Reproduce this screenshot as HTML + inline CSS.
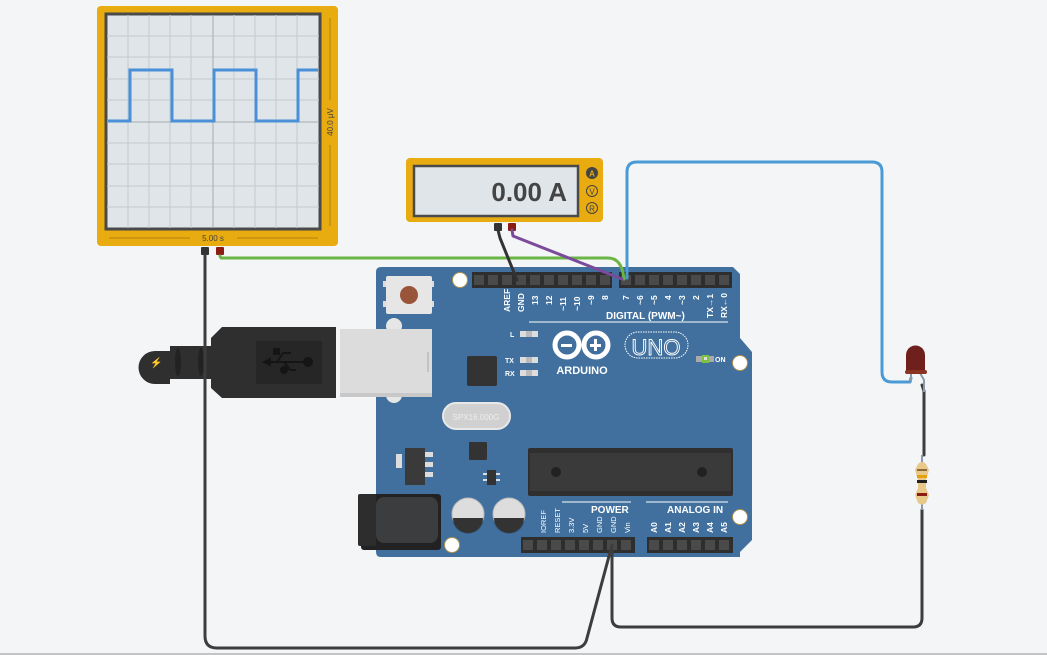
<!DOCTYPE html>
<html><head><meta charset="utf-8"><style>
html,body{margin:0;padding:0;background:#f3f5f7;}
svg{display:block;font-family:"Liberation Sans",sans-serif;}
</style></head><body>
<svg width="1047" height="655" viewBox="0 0 1047 655" xmlns="http://www.w3.org/2000/svg">
<rect width="1047" height="655" fill="#f3f5f7"/>
<line x1="0" y1="654" x2="1047" y2="654" stroke="#c4c4c4" stroke-width="2"/>

<!-- Oscilloscope -->
<rect x="97" y="6" width="241" height="240" rx="4" fill="#e8ab10"/>
<rect x="106" y="14" width="214" height="215" fill="#dfe5e8" stroke="#4a4a4a" stroke-width="3"/>
<g stroke="#c3cacd" stroke-width="1">
<line x1="128" y1="15" x2="128" y2="228"/><line x1="149" y1="15" x2="149" y2="228"/><line x1="170" y1="15" x2="170" y2="228"/><line x1="191" y1="15" x2="191" y2="228"/><line x1="234" y1="15" x2="234" y2="228"/><line x1="255" y1="15" x2="255" y2="228"/><line x1="276" y1="15" x2="276" y2="228"/><line x1="297" y1="15" x2="297" y2="228"/>
<line x1="107" y1="36" x2="319" y2="36"/><line x1="107" y1="57" x2="319" y2="57"/><line x1="107" y1="79" x2="319" y2="79"/><line x1="107" y1="100" x2="319" y2="100"/><line x1="107" y1="143" x2="319" y2="143"/><line x1="107" y1="164" x2="319" y2="164"/><line x1="107" y1="186" x2="319" y2="186"/><line x1="107" y1="207" x2="319" y2="207"/>
</g>
<line x1="213" y1="15" x2="213" y2="228" stroke="#a5abae" stroke-width="1"/>
<line x1="107" y1="122" x2="319" y2="122" stroke="#a5abae" stroke-width="1"/>
<polyline points="108,121 130,121 130,70 172,70 172,121 214,121 214,70 256,70 256,121 298,121 298,70 318,70" fill="none" stroke="#4a90d9" stroke-width="3"/>
<line x1="109" y1="238" x2="190" y2="238" stroke="#a07a10" stroke-width="0.8"/>
<line x1="237" y1="238" x2="318" y2="238" stroke="#a07a10" stroke-width="0.8"/>
<text x="213" y="241" font-size="8" fill="#444" text-anchor="middle">5.00 s</text>
<line x1="330" y1="18" x2="330" y2="100" stroke="#a07a10" stroke-width="0.8"/>
<line x1="330" y1="145" x2="330" y2="226" stroke="#a07a10" stroke-width="0.8"/>
<text x="0" y="0" font-size="8" fill="#444" text-anchor="middle" transform="translate(333,122) rotate(-90)">40.0 μV</text>
<rect x="201" y="247" width="8" height="8" rx="1" fill="#333"/>
<rect x="216" y="247" width="8" height="8" rx="1" fill="#8b1c14"/>

<!-- Multimeter -->
<rect x="406" y="158" width="197" height="64" rx="4" fill="#e8ab10"/>
<rect x="414" y="166" width="164" height="50" fill="#dfe5e8" stroke="#4a4a4a" stroke-width="2.5"/>
<text x="567" y="201" font-size="26" fill="#444" text-anchor="end" font-weight="bold">0.00 A</text>
<circle cx="592" cy="173" r="6" fill="#444"/><text x="592" y="176.5" font-size="8" fill="#e8ab10" text-anchor="middle" font-weight="bold">A</text>
<circle cx="592" cy="191" r="5.5" fill="none" stroke="#444"/><text x="592" y="194.5" font-size="8" fill="#444" text-anchor="middle">V</text>
<circle cx="592" cy="208" r="5.5" fill="none" stroke="#444"/><text x="592" y="211.5" font-size="8" fill="#444" text-anchor="middle">R</text>
<rect x="494" y="223" width="8" height="8" rx="1" fill="#333"/>
<rect x="508" y="223" width="8" height="8" rx="1" fill="#8b1c14"/>

<!-- Arduino board -->
<path d="M376,272 q0,-5 5,-5 L733,267 L740,274 L740,338 L752,352 L752,540 L740,552 L740,557 L381,557 q-5,0 -5,-5 Z" fill="#41709e"/>
<rect x="472" y="272" width="140" height="16" fill="#2e2e2e"/>
<rect x="619" y="272" width="113" height="16" fill="#2e2e2e"/>
<rect x="521" y="537" width="114" height="16" fill="#2e2e2e"/>
<rect x="647" y="537" width="86" height="16" fill="#2e2e2e"/>
<g fill="#4a4a4a">
<rect x="474" y="275" width="10" height="10"/><rect x="488" y="275" width="10" height="10"/><rect x="502" y="275" width="10" height="10"/><rect x="516" y="275" width="10" height="10"/><rect x="530" y="275" width="10" height="10"/><rect x="544" y="275" width="10" height="10"/><rect x="558" y="275" width="10" height="10"/><rect x="572" y="275" width="10" height="10"/><rect x="586" y="275" width="10" height="10"/><rect x="600" y="275" width="10" height="10"/>
<rect x="621" y="275" width="10" height="10"/><rect x="635" y="275" width="10" height="10"/><rect x="649" y="275" width="10" height="10"/><rect x="663" y="275" width="10" height="10"/><rect x="677" y="275" width="10" height="10"/><rect x="691" y="275" width="10" height="10"/><rect x="705" y="275" width="10" height="10"/><rect x="719" y="275" width="10" height="10"/>
<rect x="523" y="540" width="10" height="10"/><rect x="537" y="540" width="10" height="10"/><rect x="551" y="540" width="10" height="10"/><rect x="565" y="540" width="10" height="10"/><rect x="579" y="540" width="10" height="10"/><rect x="593" y="540" width="10" height="10"/><rect x="607" y="540" width="10" height="10"/><rect x="621" y="540" width="10" height="10"/>
<rect x="649" y="540" width="10" height="10"/><rect x="663" y="540" width="10" height="10"/><rect x="677" y="540" width="10" height="10"/><rect x="691" y="540" width="10" height="10"/><rect x="705" y="540" width="10" height="10"/><rect x="719" y="540" width="10" height="10"/>
</g>
<g font-size="8.5" fill="#fff" font-weight="bold">
<text transform="translate(510,312) rotate(-90)">AREF</text>
<text transform="translate(524,312) rotate(-90)">GND</text>
<text transform="translate(538,305) rotate(-90)">13</text>
<text transform="translate(552,305) rotate(-90)">12</text>
<text transform="translate(566,311) rotate(-90)">~11</text>
<text transform="translate(580,311) rotate(-90)">~10</text>
<text transform="translate(594,305) rotate(-90)">~9</text>
<text transform="translate(608,300) rotate(-90)">8</text>
<text transform="translate(629,300) rotate(-90)">7</text>
<text transform="translate(643,305) rotate(-90)">~6</text>
<text transform="translate(657,305) rotate(-90)">~5</text>
<text transform="translate(671,300) rotate(-90)">4</text>
<text transform="translate(685,305) rotate(-90)">~3</text>
<text transform="translate(699,300) rotate(-90)">2</text>
<text transform="translate(713,318) rotate(-90)">TX→1</text>
<text transform="translate(727,318) rotate(-90)">RX←0</text>
<text x="606" y="319" font-size="10">DIGITAL (PWM~)</text>
<text x="591" y="513" font-size="10">POWER</text>
<text x="667" y="513" font-size="10">ANALOG IN</text>
<text transform="translate(546,533) rotate(-90)" font-size="7.5" font-weight="normal">IOREF</text>
<text transform="translate(560,533) rotate(-90)" font-size="7.5" font-weight="normal">RESET</text>
<text transform="translate(574,533) rotate(-90)" font-size="7.5" font-weight="normal">3.3V</text>
<text transform="translate(588,533) rotate(-90)" font-size="7.5" font-weight="normal">5V</text>
<text transform="translate(602,533) rotate(-90)" font-size="7.5" font-weight="normal">GND</text>
<text transform="translate(616,533) rotate(-90)" font-size="7.5" font-weight="normal">GND</text>
<text transform="translate(630,533) rotate(-90)" font-size="7.5" font-weight="normal">Vin</text>
<text transform="translate(657,533) rotate(-90)">A0</text>
<text transform="translate(671,533) rotate(-90)">A1</text>
<text transform="translate(685,533) rotate(-90)">A2</text>
<text transform="translate(699,533) rotate(-90)">A3</text>
<text transform="translate(713,533) rotate(-90)">A4</text>
<text transform="translate(727,533) rotate(-90)">A5</text>
<text x="510" y="337" font-size="7">L</text>
<text x="505" y="363" font-size="7">TX</text>
<text x="505" y="376" font-size="7">RX</text>
<text x="715" y="362" font-size="7">ON</text>
</g>
<line x1="529" y1="322" x2="728" y2="322" stroke="#fff" stroke-width="1"/>
<line x1="562" y1="502" x2="631" y2="502" stroke="#fff" stroke-width="1"/>
<line x1="646" y1="502" x2="728" y2="502" stroke="#fff" stroke-width="1"/>
<rect x="520" y="331" width="18" height="6" fill="#ddd"/><rect x="526" y="331" width="6" height="6" fill="#bbb"/>
<rect x="520" y="357" width="18" height="6" fill="#ddd"/><rect x="526" y="357" width="6" height="6" fill="#bbb"/>
<rect x="520" y="370" width="18" height="6" fill="#ddd"/><rect x="526" y="370" width="6" height="6" fill="#bbb"/>
<rect x="696" y="356" width="18" height="6" fill="#aaa"/><rect x="702" y="355" width="7" height="8" fill="#7cc242"/><rect x="704" y="357" width="3" height="3" fill="#ddd"/>
<circle cx="567" cy="345" r="12" fill="none" stroke="#fff" stroke-width="5"/>
<circle cx="596" cy="345" r="12" fill="none" stroke="#fff" stroke-width="5"/>
<rect x="561" y="344" width="11" height="3" fill="#fff"/>
<rect x="590" y="344" width="11" height="3" fill="#fff"/><rect x="594" y="339" width="3" height="12" fill="#fff"/>
<text x="582" y="374" font-size="11" font-weight="bold" fill="#fff" text-anchor="middle">ARDUINO</text>
<rect x="625" y="332" width="63" height="26" rx="13" fill="none" stroke="#fff" stroke-width="1" stroke-dasharray="1.5,1"/>
<text x="656" y="355" font-size="22" fill="none" stroke="#fff" stroke-width="0.9" text-anchor="middle">UNO</text>
<rect x="467" y="356" width="30" height="30" rx="2" fill="#333"/>
<rect x="469" y="442" width="18" height="18" rx="1" fill="#333"/>
<rect x="487" y="470" width="9" height="15" fill="#333"/>
<rect x="483" y="473" width="4" height="2" fill="#ddd"/><rect x="483" y="479" width="4" height="2" fill="#ddd"/><rect x="496" y="473" width="4" height="2" fill="#ddd"/><rect x="496" y="479" width="4" height="2" fill="#ddd"/>
<rect x="443" y="403" width="67" height="26" rx="13" fill="#d0d0d0" stroke="#e8e8e8" stroke-width="2"/>
<text x="476" y="420" font-size="8" fill="#eee" text-anchor="middle">SPX16.000G</text>
<rect x="528" y="448" width="205" height="48" rx="2" fill="#2f2f2f"/>
<rect x="530" y="453" width="201" height="38" fill="#3a3a3a"/>
<circle cx="556" cy="472" r="5" fill="#222"/><circle cx="702" cy="472" r="5" fill="#222"/>
<rect x="396" y="454" width="6" height="14" fill="#ddd"/>
<rect x="405" y="448" width="20" height="37" fill="#3a3a3a"/>
<rect x="425" y="452" width="8" height="5" fill="#ddd"/><rect x="425" y="462" width="8" height="5" fill="#ddd"/><rect x="425" y="472" width="8" height="5" fill="#ddd"/>
<circle cx="468" cy="518" r="16" fill="#365f88"/>
<circle cx="468" cy="514" r="16" fill="#ddd" stroke="#bbb"/><path d="M453,518 L483,518 A15,15 0 0 1 453,518 Z" fill="#333"/>
<circle cx="509" cy="518" r="16" fill="#365f88"/>
<circle cx="509" cy="514" r="16" fill="#ddd" stroke="#bbb"/><path d="M494,518 L524,518 A15,15 0 0 1 494,518 Z" fill="#333"/>
<rect x="361" y="494" width="80" height="56" rx="3" fill="#222"/>
<rect x="376" y="497" width="62" height="46" rx="8" fill="#3b3d3f"/>
<rect x="358" y="494" width="18" height="52" rx="2" fill="#2d2d2d"/>
<rect x="383" y="281" width="4" height="6" fill="#ddd"/><rect x="383" y="301" width="4" height="6" fill="#ddd"/><rect x="430" y="281" width="4" height="6" fill="#ddd"/><rect x="430" y="301" width="4" height="6" fill="#ddd"/>
<rect x="386" y="276" width="46" height="38" rx="2" fill="#e6e6e6"/>
<circle cx="409" cy="295" r="9" fill="#98553a"/>
<g fill="#fff" stroke="#b3914c" stroke-width="1">
<circle cx="460" cy="280" r="7.5"/><circle cx="740" cy="363" r="7.5"/><circle cx="740" cy="517" r="7.5"/><circle cx="452" cy="545" r="7.5"/>
</g>

<!-- USB -->
<circle cx="394" cy="326" r="8" fill="#e6e6e6"/><circle cx="394" cy="395" r="8" fill="#e6e6e6"/>
<rect x="340" y="329" width="92" height="68" fill="#dcdcdc"/>
<rect x="340" y="393" width="92" height="4" fill="#c8c8c8"/>
<line x1="428" y1="352" x2="428" y2="372" stroke="#aaa"/>
<path d="M155,351 L170,351 L170,346 L211,346 L211,338 L222,327 L336,327 L336,398 L222,398 L211,388 L211,379 L170,379 L170,384 L155,384 A16.5,16.5 0 0 1 155,351 Z" fill="#2f2f2f"/>
<rect x="256" y="341" width="66" height="43" fill="#262626"/>
<g stroke="#151515" stroke-width="2" fill="#151515">
<line x1="266" y1="362" x2="308" y2="362"/><circle cx="308" cy="362" r="4"/>
<polyline points="277,362 283,353 291,353" fill="none"/><rect x="274" y="349" width="5" height="5"/>
<polyline points="284,362 290,370 296,370" fill="none"/><circle cx="284" cy="370" r="3"/>
<polygon points="264,362 270,359 270,365"/>
</g>
<text x="150" y="366" font-size="10" fill="#e8ab10">⚡</text>
<ellipse cx="178" cy="362" rx="3" ry="14" fill="#222"/><ellipse cx="201" cy="362" rx="3" ry="14" fill="#222"/>

<!-- wires -->
<g fill="none" stroke-linecap="round" stroke-linejoin="round">
<path d="M205,255 L205,636 Q205,648 217,648 L575,648 Q585,648 587,638 L612,545" stroke="#3d3d3d" stroke-width="3"/>
<path d="M612,545 L612,618 Q612,627 621,627 L913,627 Q922,627 922,618 L922,510" stroke="#3d3d3d" stroke-width="3"/>
<path d="M220,256 L221,258 L608,258 Q622,258 624,279" stroke="#6ab544" stroke-width="3"/>
<path d="M512,230 L513,236 L622,279" stroke="#7a4b9a" stroke-width="3"/>
<path d="M498,230 L500,238 L517,280" stroke="#333" stroke-width="3"/>
<path d="M627,278 L627,172 Q627,162 637,162 L872,162 Q882,162 882,172 L882,372 Q882,382 892,382 L910,382 L911,378" stroke="#4a9ad6" stroke-width="3"/>
<path d="M922,385 L924,391 L924,455" stroke="#3d3d3d" stroke-width="3"/>
</g>
<line x1="911" y1="372" x2="911" y2="382" stroke="#8a9aaa" stroke-width="2"/>
<path d="M920,373 L924,380 L924,392" stroke="#8a9aaa" stroke-width="2" fill="none"/>
<path d="M906,373 L906,355 A9.5,9.5 0 0 1 925,355 L925,373 Z" fill="#70201c"/>
<rect x="905" y="370" width="22" height="4" rx="2" fill="#8b3322"/>
<line x1="922" y1="455" x2="922" y2="467" stroke="#8a9aaa" stroke-width="2"/>
<line x1="922" y1="500" x2="922" y2="510" stroke="#8a9aaa" stroke-width="2"/>
<path d="M918,464 Q922,460 926,464 L929,470 L926,480 L926,488 L929,495 L926,503 Q922,506 918,503 L915,495 L918,488 L918,480 L915,470 Z" fill="#e8c98a"/>
<rect x="917" y="469" width="10" height="2" fill="#8b6a3a"/>
<rect x="917" y="475" width="10" height="3" fill="#e8a010"/>
<rect x="917" y="480" width="10" height="3" fill="#222"/>
<rect x="917" y="493" width="10" height="3" fill="#8b1c14"/>
</svg>
</body></html>
